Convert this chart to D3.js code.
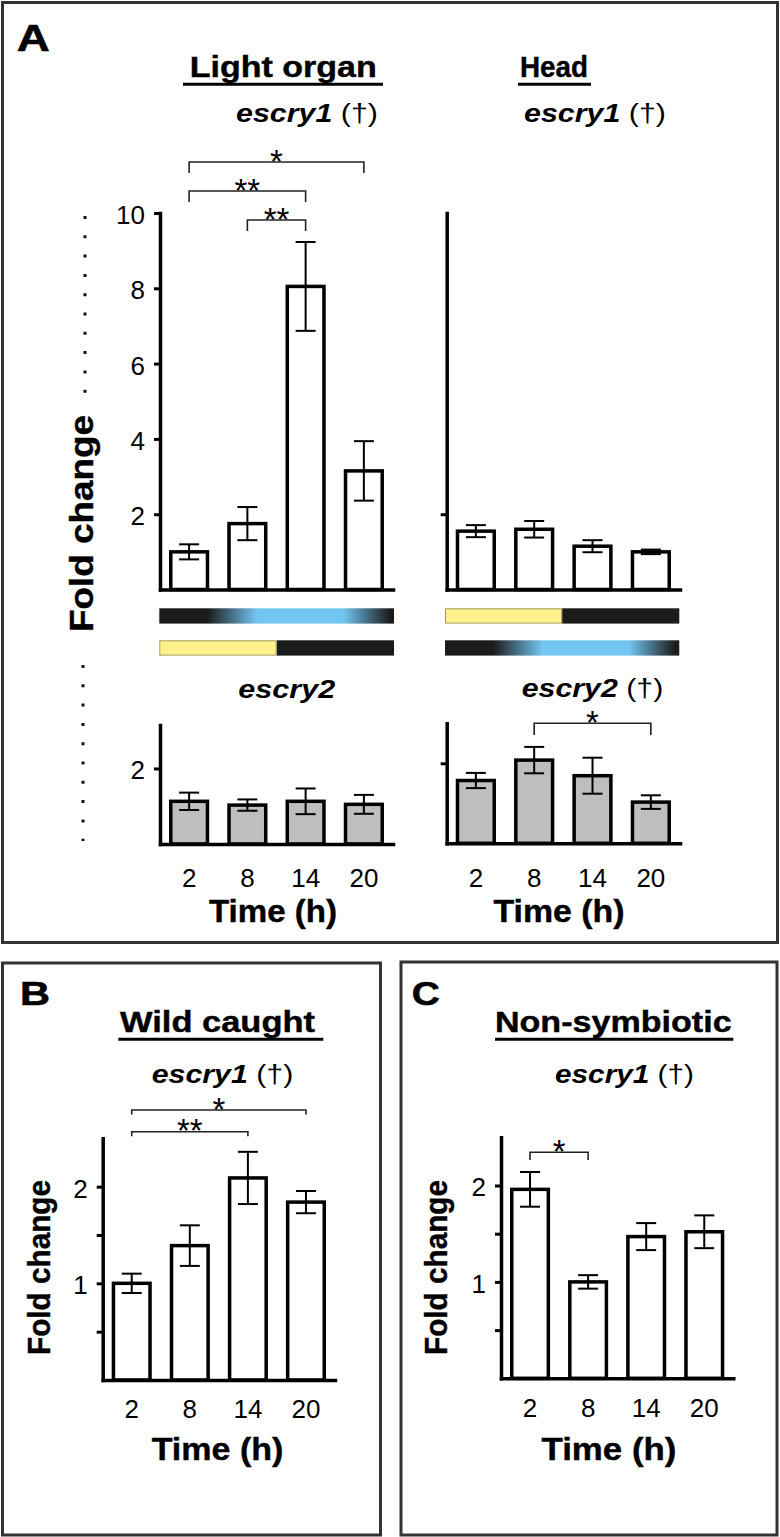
<!DOCTYPE html>
<html><head><meta charset="utf-8">
<script src="https://cdn.jsdelivr.net/npm/d3@7/dist/d3.min.js"></script>
<style>
body{margin:0;background:#fff}
svg text{font-family:"Liberation Sans",Arial,Helvetica,sans-serif;white-space:pre}
</style>
</head><body>
<svg id="c" width="780" height="1537"></svg>
<script>
// ---------------- DATA ----------------
const times = ["2","8","14","20"];
// Panel A – light organ / head, escry1 & escry2 (mean ± error)
const loE1Mean   = [1.00, 1.75, 8.05, 3.15];
const loE1Err    = [0.20, 0.44, 1.18, 0.79];
const headE1Mean = [1.55, 1.60, 1.15, 1.00];
const headE1Err  = [0.16, 0.22, 0.16, 0.06];
const loE2Mean   = [1.13, 1.03, 1.13, 1.05];
const loE2Err    = [0.23, 0.15, 0.34, 0.25];
const headE2Mean = [1.57, 2.08, 1.69, 1.03];
const headE2Err  = [0.19, 0.33, 0.45, 0.17];
// Panel B – wild caught, Panel C – non-symbiotic
const wildMean   = [1.00, 1.39, 2.09, 1.84];
const wildErr    = [0.10, 0.21, 0.27, 0.115];
const nonsymMean = [1.96, 1.00, 1.47, 1.52];
const nonsymErr  = [0.18, 0.07, 0.14, 0.17];
// tick values
const ticksLoE1 = [2,4,6,8,10];
const ticksSmall = [2];
const ticksBC = [0.5,1,1.5,2];
const labelsBC = [1,2];
// significance brackets
const loE1Sig   = [{from:"8",to:"14",mark:"**",level:0},{from:"2",to:"14",mark:"**",level:1},{from:"2",to:"20",mark:"*",level:2}];
const headE2Sig = [{from:"8",to:"20",mark:"*",level:0}];
const wildSig   = [{from:"2",to:"14",mark:"**",level:0},{from:"2",to:"20",mark:"*",level:1}];
const nonsymSig = [{from:"2",to:"8",mark:"*",level:0}];
// light regime (hours) and luminescence profile (0 = dark, 1 = full)
const dayHours = [0, 24];
const lightPeriod = [0, 12];
const lumHours = [0, 4.9, 10, 18.8, 23.6, 24];
const lumLevel = [0, 0, 1, 1, 0, 0];

// ---------------- DRAW ----------------
const svg = d3.select("#c");
const BLACK = "#1b1b1b", BLUE = "#74c6f2", YELLOW = "#fff28c", GRAY = "#bcbec0";

// frames
[[2.5,2.5,775,940],[2.5,963,378,572],[401,962,376,573]].forEach(f=>{
  svg.append("rect").attr("x",f[0]).attr("y",f[1]).attr("width",f[2]).attr("height",f[3])
    .attr("fill","none").attr("stroke","#333").attr("stroke-width",3);
});

function txt(x,y,s,o={}){
  const t = svg.append("text").attr("x",x).attr("y",y)
    .attr("font-size",o.size||24).attr("font-weight",o.weight||"normal")
    .attr("text-anchor",o.anchor||"middle").attr("fill","#000");
  if(o.style) t.attr("font-style",o.style);
  if(o.rotate) t.attr("transform",`rotate(${o.rotate},${x},${y})`);
  if(o.len) t.attr("textLength",o.len).attr("lengthAdjust","spacingAndGlyphs");
  if(o.stroke) t.attr("stroke","#000").attr("stroke-width",o.stroke);
  t.text(s);
  return t;
}
function gene(x,y,name,dagger,len){
  const t = svg.append("text").attr("x",x).attr("y",y).attr("font-size",25)
    .attr("text-anchor","middle").attr("textLength",len).attr("lengthAdjust","spacingAndGlyphs");
  t.append("tspan").attr("font-weight","bold").attr("font-style","italic").text(name);
  if(dagger) t.append("tspan").attr("font-weight","normal").text(" (\u2020)");
}
function underline(x0,x1,y){
  svg.append("line").attr("x1",x0).attr("x2",x1).attr("y1",y).attr("y2",y)
    .attr("stroke","#000").attr("stroke-width",3);
}

// panel letters & titles
txt(16.7,50.7,"A",{size:37,weight:"bold",anchor:"start",len:33,stroke:0.6});
txt(20,1005,"B",{size:34,weight:"bold",anchor:"start",len:30,stroke:0.6});
txt(411.7,1005,"C",{size:34,weight:"bold",anchor:"start",len:28,stroke:0.6});
txt(283.3,77,"Light organ",{size:29,weight:"bold",len:187,stroke:0.4}); underline(183,383,84.3);
txt(554,77,"Head",{size:29,weight:"bold",len:68,stroke:0.4}); underline(518,591,84.3);
txt(217.5,1031.7,"Wild caught",{size:29,weight:"bold",len:195,stroke:0.4}); underline(118.3,323.3,1039.3);
txt(613.3,1031.7,"Non-symbiotic",{size:29,weight:"bold",len:236.7,stroke:0.4}); underline(495,733.3,1039.3);

gene(307,121.7,"escry1",true,142);
gene(595,121.7,"escry1",true,142);
gene(286.7,698.3,"escry2",false,97);
gene(592.5,697.3,"escry2",true,141.6);
gene(222.5,1083.3,"escry1",true,141.6);
gene(624.5,1083.3,"escry1",true,139);

// axis titles
txt(273,922,"Time (h)",{size:31,weight:"bold",len:128,stroke:0.4});
txt(559,922,"Time (h)",{size:31,weight:"bold",len:131,stroke:0.4});
txt(217.5,1460,"Time (h)",{size:31,weight:"bold",len:131.7,stroke:0.4});
txt(609,1460,"Time (h)",{size:31,weight:"bold",len:135,stroke:0.4});
txt(93,523.5,"Fold change",{size:33,weight:"bold",rotate:-90,len:217,stroke:0.4});
txt(50,1267.5,"Fold change",{size:32,weight:"bold",rotate:-90,len:175,stroke:0.4});
txt(446.7,1267.5,"Fold change",{size:32,weight:"bold",rotate:-90,len:175,stroke:0.4});

// dotted guides
[[85,216,393],[83,665,841]].forEach(d=>{
  svg.append("line").attr("x1",d[0]).attr("x2",d[0]).attr("y1",d[1]).attr("y2",d[2])
    .attr("stroke","#111").attr("stroke-width",3).attr("stroke-dasharray","3 16.3");
});

// charts
const charts = [
  {mean:loE1Mean, err:loE1Err, fill:"#fff", xr:[160,393], yr:[589.5,213], dom:[0,10], ticks:ticksLoE1, lab:ticksLoE1, sig:loE1Sig, sigY:220, sigStep:29, tip:11, xlab:false},
  {mean:headE1Mean, err:headE1Err, fill:"#fff", xr:[446.7,680], yr:[589.5,213], dom:[0,10], ticks:ticksSmall, lab:[], sig:[], xlab:false},
  {mean:loE2Mean, err:loE2Err, fill:GRAY, xr:[160,393], yr:[844,725], dom:[0,3.15], ticks:ticksSmall, lab:ticksSmall, sig:[], xlab:true, xoff:43},
  {mean:headE2Mean, err:headE2Err, fill:GRAY, xr:[446.7,680], yr:[843.3,723.3], dom:[0,3], ticks:ticksSmall, lab:[], sig:headE2Sig, sigY:723.3, sigStep:0, tip:11.7, xlab:true, xoff:43.7},
  {mean:wildMean, err:wildErr, fill:"#fff", xr:[102.7,335], yr:[1380,1138.3], dom:[0,2.5], ticks:ticksBC, lab:labelsBC, sig:wildSig, sigY:1131.7, sigStep:21.7, tip:4.5, xlab:true, xoff:37.5},
  {mean:nonsymMean, err:nonsymErr, fill:"#fff", xr:[501,733.3], yr:[1378.3,1137.3], dom:[0,2.5], ticks:ticksBC, lab:labelsBC, sig:nonsymSig, sigY:1152.3, sigStep:0, tip:7.7, xlab:true, xoff:39}
];

charts.forEach(c=>{
  const x = d3.scaleBand().domain(times).range(c.xr).paddingInner(0.37).paddingOuter(0.185);
  const y = d3.scaleLinear().domain(c.dom).range(c.yr);
  const g = svg.append("g");
  const cx = i => x(times[i]) + x.bandwidth()/2;
  g.selectAll("rect.bar").data(c.mean).join("rect").attr("class","bar")
    .attr("x",(d,i)=>x(times[i])).attr("width",x.bandwidth())
    .attr("y",d=>y(d)).attr("height",d=>y(0)-y(d))
    .attr("fill",c.fill).attr("stroke","#000").attr("stroke-width",3.5);
  const eb = g.selectAll("g.eb").data(c.mean).join("g").attr("class","eb")
    .attr("stroke","#000").attr("stroke-width",2);
  eb.append("line").attr("x1",(d,i)=>cx(i)).attr("x2",(d,i)=>cx(i))
    .attr("y1",(d,i)=>y(d+c.err[i])).attr("y2",(d,i)=>y(d-c.err[i]));
  eb.append("line").attr("x1",(d,i)=>cx(i)-10).attr("x2",(d,i)=>cx(i)+10)
    .attr("y1",(d,i)=>y(d+c.err[i])).attr("y2",(d,i)=>y(d+c.err[i]));
  eb.append("line").attr("x1",(d,i)=>cx(i)-10).attr("x2",(d,i)=>cx(i)+10)
    .attr("y1",(d,i)=>y(d-c.err[i])).attr("y2",(d,i)=>y(d-c.err[i]));

  // y axis
  const ya = d3.axisLeft(y).tickValues(c.ticks).tickSize(6).tickSizeOuter(0).tickPadding(9)
    .tickFormat(d=>c.lab.includes(d)?String(d):"");
  const yg = g.append("g").attr("transform",`translate(${c.xr[0]},0)`).call(ya);
  yg.select(".domain").attr("stroke","#000").attr("stroke-width",3.5).attr("stroke-linecap","square");
  yg.selectAll(".tick line").attr("stroke","#000").attr("stroke-width",3);
  yg.selectAll(".tick text").attr("font-size",26).attr("font-family",null).attr("dy","0.4em").attr("fill","#000");

  // x axis
  const xa = d3.axisBottom(x).tickSize(0).tickSizeOuter(0).tickFormat(d=>c.xlab?d:"");
  const xg = g.append("g").attr("transform",`translate(0,${y(0)})`).call(xa);
  xg.select(".domain").attr("stroke","#000").attr("stroke-width",3.5).attr("stroke-linecap","square");
  xg.selectAll(".tick text").attr("font-size",26).attr("font-family",null).attr("y",c.xoff||0).attr("dy",0).attr("fill","#000");

  // significance brackets
  c.sig.forEach(s=>{
    const x0 = x(s.from)+x.bandwidth()/2, x1 = x(s.to)+x.bandwidth()/2;
    const by = c.sigY - s.level*c.sigStep;
    g.append("path").attr("d",`M${x0},${by+c.tip}V${by}H${x1}V${by+c.tip}`)
      .attr("fill","none").attr("stroke","#222").attr("stroke-width",1.6);
    g.append("text").attr("x",(x0+x1)/2).attr("y",by+10.5).attr("text-anchor","middle")
      .attr("font-size",33).text(s.mark);
  });
});

// light / luminescence strips
const defs = svg.append("defs");
const lumColor = d3.interpolateRgb(BLACK, BLUE);
function lumStrip(id,x0,x1,y){
  const t = d3.scaleLinear().domain(dayHours).range([x0,x1]);
  const gr = defs.append("linearGradient").attr("id",id).attr("gradientUnits","userSpaceOnUse")
    .attr("x1",x0).attr("x2",x1).attr("y1",0).attr("y2",0);
  lumHours.forEach((h,i)=>gr.append("stop").attr("offset",(t(h)-x0)/(x1-x0)).attr("stop-color",lumColor(lumLevel[i])));
  svg.append("rect").attr("x",x0).attr("y",y).attr("width",x1-x0).attr("height",15.3).attr("fill",`url(#${id})`);
}
function lightStrip(x0,x1,y){
  const t = d3.scaleLinear().domain(dayHours).range([x0,x1]);
  svg.append("rect").attr("x",t(lightPeriod[1])).attr("y",y).attr("width",t(dayHours[1])-t(lightPeriod[1])).attr("height",15.3).attr("fill",BLACK);
  svg.append("rect").attr("x",t(lightPeriod[0])+0.5).attr("y",y+0.5).attr("width",t(lightPeriod[1])-t(lightPeriod[0])-1).attr("height",14.3)
    .attr("fill",YELLOW).attr("stroke","#a59c5c").attr("stroke-width",1);
}
lumStrip("lumL",159.3,394,608.3);
lightStrip(159.3,394,640.3);
lightStrip(445,679.3,608.3);
lumStrip("lumR",445,679.3,640.3);
</script>
</body></html>
